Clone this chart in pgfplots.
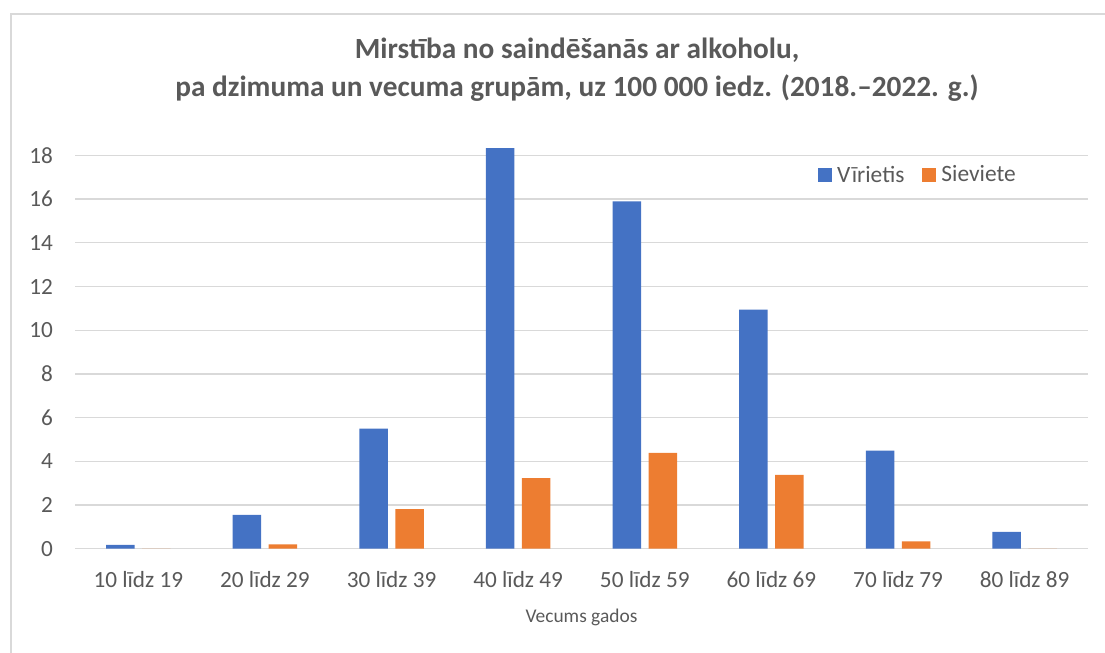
\documentclass[border=0pt]{standalone}
\usepackage{fontspec}
\setmainfont{Carlito}
\usepackage{pgfplots}
\pgfplotsset{compat=1.18}
\definecolor{cblue}{HTML}{4472C4}
\definecolor{corange}{HTML}{ED7D31}
\definecolor{cgrid}{HTML}{D9D9D9}
\definecolor{ctext}{HTML}{595959}
\begin{document}
\begin{tikzpicture}[x=1bp,y=1bp]
\path[use as bounding box] (0,0) rectangle (1105,653);
\draw[cgrid, line width=1.5bp] (11,0) -- (11,639) -- (1105,639);
\node[font=\fontsize{29.4}{38}\selectfont\bfseries, text=ctext, align=center] at (577,583)
  {Mirstība no saindēšanās ar alkoholu,\\pa dzimuma un vecuma grupām, uz 100 000 iedz. (2018.–2022. g.)};
\begin{axis}[
  at={(75bp,104.3bp)}, anchor=south west,
  scale only axis, width=1013bp, height=393.3bp,
  xmin=-0.5, xmax=7.5, ymin=0, ymax=18,
  clip=false,
  axis line style={draw=none},
  ybar=7.5bp, bar width=28.5bp,
  ymajorgrids, grid style={cgrid, line width=1.3bp},
  ytick={0,2,...,18},
  xtick={0,...,7},
  xticklabels={10 līdz 19,20 līdz 29,30 līdz 39,40 līdz 49,50 līdz 59,60 līdz 69,70 līdz 79,80 līdz 89},
  major tick length=0pt,
  tick label style={font=\fontsize{23.3}{28}\selectfont, text=ctext},
  /pgf/number format/assume math mode=true,
  yticklabel style={inner sep=0pt, xshift=-22bp},
  xticklabel style={inner sep=0pt, anchor=center, yshift=-31bp},
  xlabel={Vecums gados},
  xlabel style={font=\fontsize{19.5}{24}\selectfont, text=ctext, at={(axis description cs:0.5,0)}, anchor=center, yshift=-69bp},
  legend columns=2,
  legend style={at={(0.7335,0.951)}, anchor=west, draw=none, fill=none, inner sep=0pt,
    font=\fontsize{23.5}{28}\selectfont, text=ctext, nodes={inner sep=0pt},
    /tikz/every odd column/.append style={column sep=5bp},
    /tikz/every even column/.append style={column sep=18bp}},
  legend image code/.code={\fill[#1] (0bp,-7bp) rectangle (14bp,7bp);},
]
\addplot[fill=cblue, draw=none, legend image code/.code={\fill[cblue] (0bp,-7bp) rectangle (14bp,7bp);}] coordinates {(0,0.18) (1,1.55) (2,5.5) (3,18.33) (4,15.9) (5,10.94) (6,4.49) (7,0.77)};
\addplot[fill=corange, draw=none, legend image code/.code={\fill[corange] (0bp,-7bp) rectangle (14bp,7bp);}] coordinates {(0,0) (1,0.2) (2,1.81) (3,3.23) (4,4.38) (5,3.38) (6,0.34) (7,0)};
\legend{Vīrietis, Sieviete}
\end{axis}
\end{tikzpicture}
\end{document}
